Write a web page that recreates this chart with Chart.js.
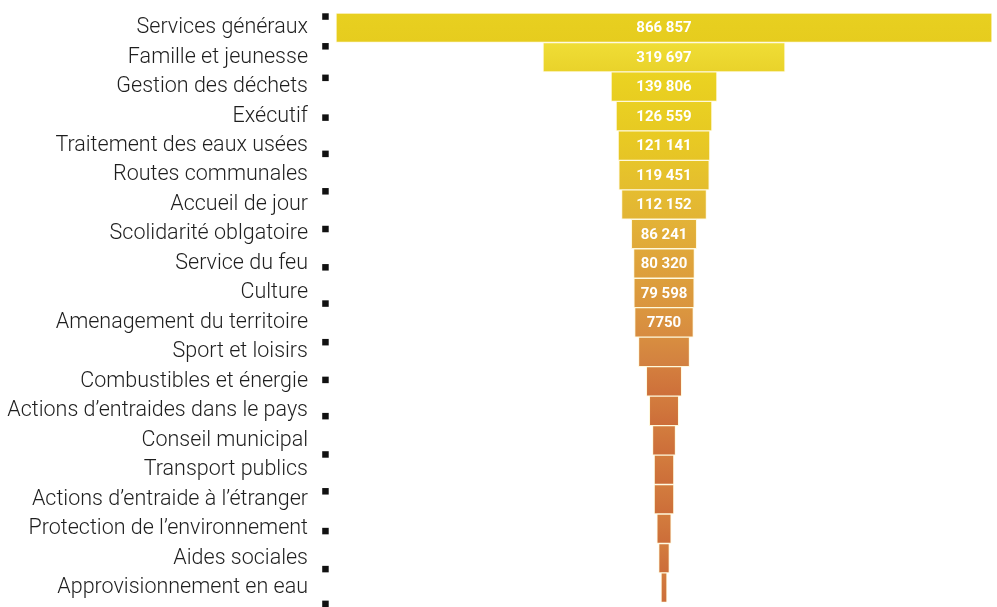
<!DOCTYPE html>
<html>
<head>
<meta charset="utf-8">
<script src="https://cdn.jsdelivr.net/npm/chart.js@4.4.1/dist/chart.umd.min.js"></script>
<style>
  html, body { margin: 0; padding: 0; background: #ffffff; }
  #wrap { width: 997px; height: 607px; position: relative; }
</style>
</head>
<body>
<div id="wrap"><canvas id="c" width="997" height="607"></canvas></div>
<script>
// ---- data ----
const categories = [
  "Services généraux", "Famille et jeunesse", "Gestion des déchets", "Exécutif",
  "Traitement des eaux usées", "Routes communales", "Accueil de jour",
  "Scolidarité oblgatoire", "Service du feu", "Culture",
  "Amenagement du territoire", "Sport et loisirs", "Combustibles et énergie",
  "Actions d’entraides dans le pays", "Conseil municipal", "Transport publics",
  "Actions d’entraide à l’étranger", "Protection de l’environnement",
  "Aides sociales", "Approvisionnement en eau"
];
const values = [
  866857, 319697, 139806, 126559, 121141, 119451, 112152, 86241, 80320, 79598,
  77500, 67400, 46600, 38700, 30400, 26000, 26000, 18900, 14100, 7900
];
const valueLabels = [
  "866 857", "319 697", "139 806", "126 559", "121 141", "119 451", "112 152",
  "86 241", "80 320", "79 598", "7750", "", "", "", "", "", "", "", "", ""
];
// fractional row positions of the small black square markers
const markerRows = [
  -0.38, 0.63, 1.70, 3.05, 4.28, 5.55, 6.83, 8.13, 9.36, 10.67,
  11.95, 13.18, 14.48, 15.73, 17.08, 18.37, 19.55
];

// ---- styles ----
const topColors = [
  "#E8D020", "#F0DE36", "#EBD322", "#EAD023", "#E9CB23", "#E7C52A", "#E5BD30",
  "#E3B337", "#E0A83A", "#DD9F3C", "#DB973F", "#D88E40", "#D47F3E", "#D37D3E",
  "#D37D3E", "#D37D3E", "#D37D3E", "#D37D3E", "#D37D3E", "#D37D3E"
];
const bottomColors = [
  "#E6CC1E", "#E9D22A", "#E8CD20", "#E7CA22", "#E6C426", "#E4BD2E", "#E2B434",
  "#E0A939", "#DD9E3C", "#DA953E", "#D78B40", "#D28040", "#CD6F3A", "#CC6D39",
  "#CC6D39", "#CC6D39", "#CC6D39", "#CC6D39", "#CC6D39", "#CC6D39"
];

const half = Math.max(...values) / 2;
const leftGap = 1.061;   // extra room on the left of the funnel for the markers
const markerX = 0.014;   // on the hidden 0..1 marker axis

function barGradient(ctx) {
  const chart = ctx.chart;
  const i = ctx.dataIndex;
  const ys = chart.scales && chart.scales.y;
  if (!chart.chartArea || !ys || i === undefined) return topColors[i] || "#E0A83A";
  const yc = ys.getPixelForValue(i);
  const h = chart.chartArea.height / categories.length / 2;
  const g = chart.ctx.createLinearGradient(0, yc - h, 0, yc + h);
  g.addColorStop(0, topColors[i]);
  g.addColorStop(1, bottomColors[i]);
  return g;
}

const valueLabelPlugin = {
  id: "valueLabels",
  afterDatasetsDraw(chart) {
    const meta = chart.getDatasetMeta(0);
    const c = chart.ctx;
    c.save();
    c.fillStyle = "#ffffff";
    c.font = "700 15px Roboto, 'Liberation Sans', sans-serif";
    c.textAlign = "center";
    c.textBaseline = "middle";
    meta.data.forEach((el, i) => {
      const t = valueLabels[i];
      if (!t) return;
      c.fillText(t, (el.x + el.base) / 2, el.y + 1);
    });
    c.restore();
  }
};

new Chart(document.getElementById("c"), {
  type: "bar",
  data: {
    labels: categories,
    datasets: [
      {
        data: values.map(v => [-v / 2, v / 2]),
        backgroundColor: barGradient,
        borderColor: "rgba(255,248,215,0.85)",
        borderWidth: 1,
        borderSkipped: false,
        barPercentage: 1,
        categoryPercentage: 1,
        grouped: false,
        yAxisID: "y",
        xAxisID: "x"
      },
      {
        type: "scatter",
        data: markerRows.map(r => ({ x: markerX, y: r })),
        xAxisID: "xM",
        yAxisID: "yM",
        pointStyle: "rect",
        pointRadius: 4.6,
        pointBackgroundColor: "#111111",
        pointBorderColor: "#111111",
        pointBorderWidth: 0,
        showLine: false,
        clip: false
      }
    ]
  },
  options: {
    indexAxis: "y",
    responsive: false,
    animation: false,
    layout: { padding: { left: 0, right: 5, top: 13, bottom: 2 } },
    plugins: { legend: { display: false }, tooltip: { enabled: false } },
    scales: {
      x: {
        type: "linear",
        display: false,
        offset: false,
        min: -half * leftGap,
        max: half
      },
      xM: {
        type: "linear",
        axis: "x",
        display: false,
        offset: false,
        min: 0,
        max: 1
      },
      y: {
        type: "category",
        position: "left",
        grid: { display: false, drawTicks: false },
        border: { display: false },
        ticks: {
          autoSkip: false,
          color: "#1e1e1e",
          padding: 8,
          font: { family: "Roboto, 'Liberation Sans', sans-serif", size: 21.5, weight: "300" }
        },
        afterFit(scale) {
          scale.width = 316;
          scale.paddingTop = 0;
          scale.paddingBottom = 0;
        }
      },
      yM: {
        type: "linear",
        axis: "y",
        display: false,
        offset: false,
        min: -0.5,
        max: categories.length - 0.5,
        reverse: true
      }
    }
  },
  plugins: [valueLabelPlugin]
});
</script>
</body>
</html>
